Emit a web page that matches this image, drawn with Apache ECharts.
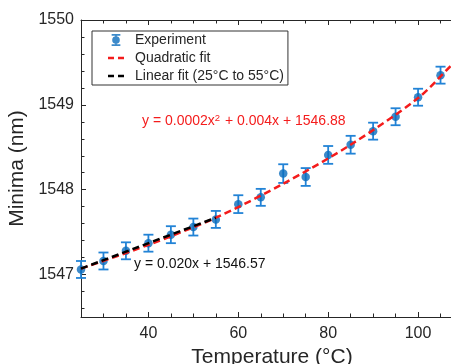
<!DOCTYPE html>
<html>
<head>
<meta charset="utf-8">
<script src="https://cdn.jsdelivr.net/npm/echarts@6/dist/echarts.min.js"></script>
<style>
  html, body { margin: 0; padding: 0; background: #fff; }
  #chart { width: 451px; height: 364px; }
</style>
</head>
<body>
<div id="chart"></div>
<script>
// measured points (temperature in °C, minima in nm)
const temps = [25, 30, 35, 40, 45, 50, 55, 60, 65, 70, 75, 80, 85, 90, 95, 100, 105];
const minima = [1547.06, 1547.16, 1547.28, 1547.37, 1547.47, 1547.56, 1547.65, 1547.83, 1547.91,
                1548.19, 1548.15, 1548.41, 1548.53, 1548.69, 1548.86, 1549.09, 1549.35];
const errors = [0.10, 0.10, 0.10, 0.10, 0.10, 0.10, 0.10, 0.105, 0.10, 0.11, 0.105, 0.105,
                0.105, 0.10, 0.10, 0.10, 0.10];

// fit curves
const quadX = [25, 40, 55, 70, 85, 100, 107.5, 110];
const quadY = [1547.07, 1547.35, 1547.67, 1548.07, 1548.53, 1549.08, 1549.47, 1549.60];
const linX = [25, 55];
const linY = [1547.07, 1547.67];

// axis ticks
const xLabels = [40, 60, 80, 100];
const xMinor = [30, 35, 45, 50, 55, 65, 70, 75, 85, 90, 95, 105];
const yLabels = [1547, 1548, 1549, 1550];
const yMinor = [];
for (let k = 0; k <= 17; k++) {
  const v = Math.round((1546.6 + k * 0.2) * 10) / 10;
  if (v % 1 !== 0) yMinor.push(v);
}

const FONT = 'Liberation Sans, Arial, Helvetica, sans-serif';
const TXT = '#262626';
const AXIS = '#262626';
const BLUE = '#0b6dbd';
const BAR = '#2283d6';
const RED = '#f41c1c';

const chart = echarts.init(document.getElementById('chart'));

const xBase = { type: 'value', min: 25, max: 110, splitLine: { show: false } };
const yBase = { type: 'value', min: 1546.5, max: 1550, splitLine: { show: false } };

const errData = temps.map((t, i) => [t, minima[i] - errors[i], minima[i] + errors[i]]);

const dashIcon = 'path://M0,0H6V2.5H0Z M10,0H16V2.5H10Z';

const option = {
  animation: false,
  textStyle: { fontFamily: FONT },
  grid: { left: 81, top: 20, right: -12, bottom: 47, containLabel: false, outerBoundsMode: 'none' },
  xAxis: [
    Object.assign({}, xBase, {
      position: 'bottom',
      name: 'Temperature (°C)',
      nameLocation: 'middle',
      nameGap: 28,
      nameTextStyle: { fontSize: 21, color: TXT, fontFamily: FONT },
      axisLine: { show: true, lineStyle: { color: AXIS, width: 1 } },
      axisTick: { show: true, inside: true, length: 5, customValues: xLabels, lineStyle: { color: AXIS } },
      axisLabel: { show: true, customValues: xLabels, fontSize: 16, color: TXT, margin: 9, fontFamily: FONT }
    }),
    Object.assign({}, xBase, {
      position: 'bottom',
      axisLine: { show: false },
      axisTick: { show: true, inside: true, length: 3.5, customValues: xMinor, lineStyle: { color: AXIS } },
      axisLabel: { show: false }
    }),
    Object.assign({}, xBase, {
      position: 'top',
      axisLine: { show: true, lineStyle: { color: AXIS, width: 1 } },
      axisTick: { show: true, inside: true, length: 5, customValues: xLabels, lineStyle: { color: AXIS } },
      axisLabel: { show: false }
    }),
    Object.assign({}, xBase, {
      position: 'top',
      axisLine: { show: false },
      axisTick: { show: true, inside: true, length: 3.5, customValues: xMinor, lineStyle: { color: AXIS } },
      axisLabel: { show: false }
    })
  ],
  yAxis: [
    Object.assign({}, yBase, {
      position: 'left',
      name: 'Minima (nm)',
      nameLocation: 'middle',
      nameGap: 46,
      nameTextStyle: { fontSize: 21, color: TXT, fontFamily: FONT },
      axisLine: { show: true, lineStyle: { color: AXIS, width: 1 } },
      axisTick: { show: true, inside: true, length: 5, customValues: yLabels, lineStyle: { color: AXIS } },
      axisLabel: {
        show: true, customValues: yLabels, fontSize: 16, color: TXT, margin: 7, fontFamily: FONT,
        formatter: (v) => String(Math.round(v))
      }
    }),
    Object.assign({}, yBase, {
      position: 'left',
      axisLine: { show: false },
      axisTick: { show: true, inside: true, length: 3.5, customValues: yMinor, lineStyle: { color: AXIS } },
      axisLabel: { show: false }
    })
  ],
  legend: {
    orient: 'vertical',
    left: 92,
    top: 31,
    padding: [2, 4, 2, 16],
    itemWidth: 16,
    itemHeight: 12,
    itemGap: 4,
    borderColor: '#333',
    borderWidth: 1,
    backgroundColor: '#fff',
    textStyle: { fontSize: 14, color: TXT, fontFamily: FONT, padding: [0, 0, 0, 6] },
    data: [
      { name: 'Experiment',
        icon: 'path://M0,0H8V1.6H0Z M3.2,0H4.8V11H3.2Z M0,9.4H8V11H0Z M0.5,5.5A3.5,3.5 0 1,1 7.5,5.5A3.5,3.5 0 1,1 0.5,5.5Z' },
      { name: 'Quadratic fit', icon: dashIcon },
      { name: 'Linear fit (25°C to 55°C)', icon: dashIcon }
    ]
  },
  graphic: [
    {
      type: 'text', left: 142, top: 113, z: 10,
      style: {
        text: '{a|y = 0.0002x}{s|2}{a| + 0.004x + 1546.88}',
        fill: RED,
        rich: {
          a: { fontSize: 14, fontFamily: FONT, fill: RED, lineHeight: 18 },
          s: { fontSize: 9.5, fontFamily: FONT, fill: RED, lineHeight: 18, padding: [0, 1, 7, 0] }
        }
      }
    },
    {
      type: 'text', left: 134, top: 257, z: 10,
      style: { text: 'y = 0.020x + 1546.57', fill: '#111', font: '14px ' + FONT }
    }
  ],
  series: [
    {
      name: 'errorbars',
      type: 'custom',
      z: 2,
      silent: true,
      data: errData,
      renderItem: function (params, api) {
        const x = api.value(0);
        const lo = api.coord([x, api.value(1)]);
        const hi = api.coord([x, api.value(2)]);
        const hw = 5;
        const st = { stroke: BAR, lineWidth: 1.8 };
        return {
          type: 'group',
          children: [
            { type: 'line', shape: { x1: lo[0], y1: lo[1], x2: hi[0], y2: hi[1] }, style: st },
            { type: 'line', shape: { x1: lo[0] - hw, y1: lo[1], x2: lo[0] + hw, y2: lo[1] }, style: st },
            { type: 'line', shape: { x1: hi[0] - hw, y1: hi[1], x2: hi[0] + hw, y2: hi[1] }, style: st }
          ]
        };
      }
    },
    {
      name: 'Experiment',
      type: 'scatter',
      z: 3,
      symbol: 'circle',
      symbolSize: 8.5,
      itemStyle: { color: BLUE },
      data: temps.map((t, i) => [t, minima[i]])
    },
    {
      name: 'Quadratic fit',
      type: 'line',
      z: 4,
      smooth: 0.3,
      symbol: 'none',
      lineStyle: { color: RED, width: 2.5, type: [7, 4] },
      itemStyle: { color: RED },
      data: quadX.map((x, i) => [x, quadY[i]])
    },
    {
      name: 'Linear fit (25°C to 55°C)',
      type: 'line',
      z: 5,
      symbol: 'none',
      lineStyle: { color: '#000', width: 2.5, type: [7, 4] },
      itemStyle: { color: '#000' },
      data: linX.map((x, i) => [x, linY[i]])
    }
  ]
};

chart.setOption(option);
</script>
</body>
</html>
